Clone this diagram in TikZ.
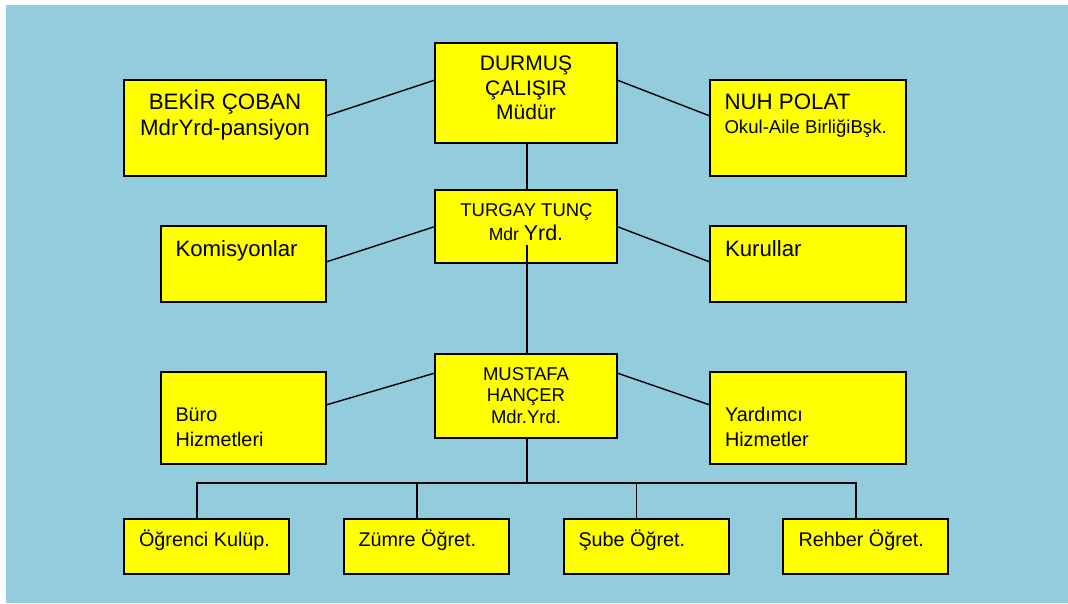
\documentclass[tikz,border=0pt]{standalone}
\usepackage{fontspec}
\setmainfont{Liberation Sans}
\definecolor{bgblue}{HTML}{93CCDD}
\definecolor{boxyellow}{HTML}{FFFF00}
\begin{document}
\begin{tikzpicture}[x=1pt,y=-1pt,
  box/.style={draw=black, fill=boxyellow, line width=1.6pt, inner sep=0pt, outer sep=0pt},
  conn/.style={draw=black, line width=1.4pt},
  txt/.style={inner sep=0pt, outer sep=0pt, text=black},
  cb/.style={txt, anchor=base},
  lb/.style={txt, anchor=base west},
  fbig/.style={font=\fontsize{22.3}{26}\selectfont},
  fdur/.style={font=\fontsize{21}{25}\selectfont},
  fmid/.style={font=\fontsize{18.5}{22}\selectfont},
  fbot/.style={font=\fontsize{19.8}{23}\selectfont}
]
\useasboundingbox (0,0) rectangle (1068,603);
\fill[white] (0,0) rectangle (1068,603);
\fill[bgblue] (6,5) rectangle (1068,603);

% boxes
\node[box, minimum width=202pt, minimum height=96pt] (bekir) at (225,128) {};
\node[box, minimum width=182pt, minimum height=100pt] (durmus) at (526,93) {};
\node[box, minimum width=196pt, minimum height=96pt] (nuh) at (808,128) {};
\node[box, minimum width=182pt, minimum height=73pt] (turgay) at (526,226.5) {};
\node[box, minimum width=165pt, minimum height=76pt] (komis) at (243.5,264) {};
\node[box, minimum width=196pt, minimum height=76pt] (kurul) at (808,264) {};
\node[box, minimum width=182pt, minimum height=84pt] (mustafa) at (526,396) {};
\node[box, minimum width=165pt, minimum height=92pt] (buro) at (243.5,418) {};
\node[box, minimum width=196pt, minimum height=92pt] (yard) at (808,418) {};
\node[box, minimum width=165pt, minimum height=55pt] (ogr) at (206.5,546.5) {};
\node[box, minimum width=165pt, minimum height=55pt] (zum) at (426.5,546.5) {};
\node[box, minimum width=165pt, minimum height=55pt] (sube) at (646.25,546.5) {};
\node[box, minimum width=165pt, minimum height=55pt] (rehb) at (865.5,546.5) {};

% connectors
\draw[conn] ([yshift=12pt]bekir.east) -- ([yshift=13pt]durmus.west);
\draw[conn] ([yshift=13pt]durmus.east) -- ([yshift=12pt]nuh.west);
\draw[conn] ([xshift=1pt]durmus.south) -- ([xshift=1pt]turgay.north);
\draw[conn] ([yshift=2pt]komis.east) -- (turgay.west);
\draw[conn] (turgay.east) -- ([yshift=2pt]kurul.west);
\draw[conn] ([xshift=1pt,yshift=-18.5pt]turgay.center) -- ([xshift=1pt]mustafa.north);
\draw[conn] ([yshift=13pt]buro.east) -- ([yshift=23pt]mustafa.west);
\draw[conn] ([yshift=23pt]mustafa.east) -- ([yshift=13pt]yard.west);
\coordinate (bus) at (527,483);
\draw[conn] ([xshift=1pt]mustafa.south) -- (bus);
\draw[conn] (bus) -| ([xshift=-9.5pt]ogr.north);
\draw[conn] (bus) -| ([xshift=-9.5pt]zum.north);
\draw[conn] (bus) -| ([xshift=-9.5pt]sube.north);
\draw[conn] (bus) -| ([xshift=-9.5pt]rehb.north);

% texts
\node[cb, fbig] (t1a) at (225,109) {BEKİR ÇOBAN};
\node[cb, fbig] (t1b) at (225,135) {MdrYrd-pansiyon};
\node[cb, fdur] (t2a) at (526,70) {DURMUŞ};
\node[cb, fdur] (t2b) at (526,95) {ÇALIŞIR};
\node[cb, fdur] (t2c) at (526,119) {Müdür};
\node[lb, fbig] (t3a) at (724.5,109) {NUH POLAT};
\node[lb, font=\fontsize{18.6}{22}\selectfont] (t3b) at (724.5,133) {Okul-Aile BirliğiBşk.};
\node[cb, fmid] (t4a) at (526.5,216) {TURGAY TUNÇ};
\node[cb] (t4b) at (526,240) {{\fontsize{17.5}{21}\selectfont Mdr }{\fontsize{21.5}{25}\selectfont Yrd.}};
\node[lb, font=\fontsize{22.2}{26}\selectfont] (t5) at (175.5,256) {Komisyonlar};
\node[lb, font=\fontsize{22.2}{26}\selectfont] (t6) at (725,256) {Kurullar};
\node[cb, fmid] (t7a) at (526,380) {MUSTAFA};
\node[cb, fmid] (t7b) at (526,401.7) {HANÇER};
\node[cb, fmid] (t7c) at (526,423.3) {Mdr.Yrd.};
\node[lb, fbot] (t8a) at (175.5,421.7) {Büro};
\node[lb, fbot] (t8b) at (175.5,446) {Hizmetleri};
\node[lb, fbot] (t9a) at (725,421.7) {Yardımcı};
\node[lb, fbot] (t9b) at (725,446) {Hizmetler};
\node[lb, fbot] (t10) at (139,546.7) {Öğrenci Kulüp.};
\node[lb, fbot] (t11) at (358.5,546.7) {Zümre Öğret.};
\node[lb, fbot] (t12) at (578.5,546.7) {Şube Öğret.};
\node[lb, fbot] (t13) at (798.5,546.7) {Rehber Öğret.};
\end{tikzpicture}
\end{document}
